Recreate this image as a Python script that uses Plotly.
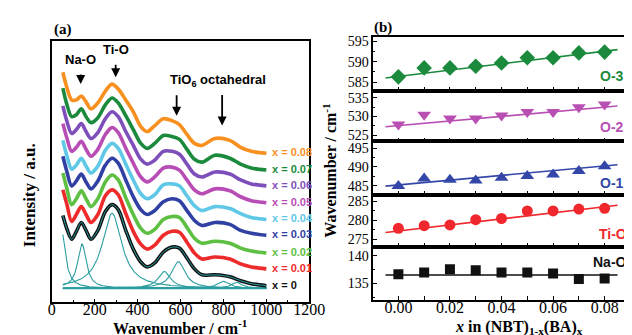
import numpy as np
import plotly.graph_objects as go

# ---------------- Panel (a): Raman spectra ----------------
wavenumber = [52, 70, 93, 115, 138, 160, 183, 215, 250, 281, 310, 345, 380, 415,
              445, 480, 520, 560, 595, 630, 665, 700, 760, 830, 880, 930, 1000]
compositions = ["x = 0", "x = 0.01", "x = 0.02", "x = 0.03", "x = 0.04",
                "x = 0.05", "x = 0.06", "x = 0.07", "x = 0.08"]
spec_x000 = [71, 58, 47, 55, 64, 56, 47, 56, 75, 82, 77, 56, 37, 24, 19, 23, 34, 39, 38, 28, 17, 11, 11, 9, 5, 2, 0]
spec_x001 = [80, 66, 48, 55, 63, 55, 47, 55, 74, 80, 75, 56, 38, 25, 20, 24, 34, 38, 37, 27, 16, 10, 12, 10, 5, 2, 0]
spec_x002 = [81, 66, 49, 55, 63, 55, 47, 55, 72, 79, 74, 56, 39, 25, 20, 24, 34, 37, 36, 26, 15, 10, 12, 10, 5, 2, 0]
spec_x003 = [80, 65, 50, 55, 62, 54, 47, 55, 71, 78, 73, 56, 39, 26, 21, 25, 34, 37, 35, 25, 15, 10, 13, 11, 5, 2, 0]
spec_x004 = [80, 65, 51, 55, 62, 54, 47, 54, 70, 77, 72, 56, 40, 26, 21, 25, 35, 36, 34, 24, 14, 9, 13, 11, 6, 2, 0]
spec_x005 = [80, 66, 52, 56, 62, 54, 47, 54, 69, 76, 71, 55, 40, 26, 21, 26, 35, 36, 33, 23, 13, 9, 14, 12, 6, 2, 0]
spec_x006 = [81, 66, 53, 57, 63, 55, 48, 54, 68, 75, 70, 55, 41, 27, 22, 26, 35, 35, 32, 22, 12, 9, 14, 12, 6, 2, 0]
spec_x007 = [83, 67, 54, 56, 62, 54, 48, 53, 66, 73, 68, 55, 41, 27, 22, 27, 35, 34, 31, 21, 11, 8, 15, 12, 6, 2, 0]
spec_x008 = [82, 67, 54, 54, 58, 52, 45, 51, 63, 70, 65, 54, 42, 27, 22, 28, 35, 33, 29, 19, 10, 8, 15, 13, 6, 2, 0]
spectra = [spec_x000, spec_x001, spec_x002, spec_x003, spec_x004,
           spec_x005, spec_x006, spec_x007, spec_x008]
offsets = [17, 34, 50, 68, 84, 101, 118, 134, 151]
colors = ["#111111", "#EE2B2B", "#5DC043", "#3141A3", "#5FC8E6",
          "#B94DB6", "#7E4FBA", "#1B8A3C", "#F7901E"]

# fitted components of the x = 0 spectrum (centre, height, half width)
comp_center = [45, 141, 281, 525, 590, 800, 862]
comp_height = [60, 45, 76, 17, 27, 7, 6]
comp_hwhm = [22, 24, 55, 35, 38, 35, 30]
comp_base = 14.3
teal = "#2A9D9F"

# ---------------- Panel (b): peak positions ----------------
x_comp = [0.00, 0.01, 0.02, 0.03, 0.04, 0.05, 0.06, 0.07, 0.08]
o3_pos = [586.3, 588.5, 588.5, 588.9, 589.7, 591.0, 591.0, 592.2, 592.4]
o2_pos = [527.9, 530.5, 529.5, 529.5, 530.3, 531.2, 531.2, 532.5, 533.2]
o1_pos = [484.9, 486.9, 486.6, 486.4, 487.1, 487.6, 488.0, 488.9, 490.2]
tio_pos = [277.9, 278.6, 278.8, 280.2, 280.5, 282.5, 282.5, 283.0, 283.2]
nao_pos = [136.7, 137.0, 137.6, 137.4, 137.0, 137.0, 136.8, 135.8, 135.9]
fit_x = [-0.005, 0.085]
o3_fit = [586.0, 593.0]
o2_fit = [527.3, 532.8]
o1_fit = [484.9, 490.6]
tio_fit = [276.8, 284.0]
nao_fit = [136.55, 136.55]

W, H = 632, 335
SERIF = "Liberation Serif"
SANS = "Liberation Sans"

def fy(px):
    return 1 - px / H

fig = go.Figure()

# teal components
wgrid = np.linspace(52, 1000, 400)
fig.add_trace(go.Scatter(x=[52, 1000], y=[comp_base, comp_base], mode="lines",
                         line=dict(color=teal, width=2), xaxis="x", yaxis="y"))
for c, h, g in zip(comp_center, comp_height, comp_hwhm):
    yy = comp_base + h / (1 + ((wgrid - c) / g) ** 2)
    fig.add_trace(go.Scatter(x=wgrid, y=yy, mode="lines",
                             line=dict(color=teal, width=1.1), xaxis="x", yaxis="y"))

for k, (spec, off, col) in enumerate(zip(spectra, offsets, colors)):
    yv = [v + off for v in spec]
    fig.add_trace(go.Scatter(x=wavenumber, y=yv, mode="lines",
                             line=dict(color=col, width=3.6, shape="spline", smoothing=0.9),
                             xaxis="x", yaxis="y"))
    if k == 0:
        fig.add_trace(go.Scatter(x=wavenumber, y=yv, mode="lines",
                                 line=dict(color=teal, width=1, shape="spline", smoothing=0.9),
                                 xaxis="x", yaxis="y"))

# panel b series
series_b = [
    (o3_pos, o3_fit, "#1B8A3C", "diamond", 12, 2),
    (o2_pos, o2_fit, "#B94FB3", "triangle-down", 12, 3),
    (o1_pos, o1_fit, "#3447A8", "triangle-up", 12, 4),
    (tio_pos, tio_fit, "#F0282D", "circle", 11, 5),
    (nao_pos, nao_fit, "#111111", "square", 10, 6),
]
for pos, fit, col, sym, size, idx in series_b:
    fig.add_trace(go.Scatter(x=fit_x, y=fit, mode="lines", line=dict(color=col, width=1.6),
                             xaxis=f"x{idx}", yaxis=f"y{idx}"))
    fig.add_trace(go.Scatter(x=x_comp, y=pos, mode="markers",
                             marker=dict(symbol=sym, size=size, color=col),
                             xaxis=f"x{idx}", yaxis=f"y{idx}"))

layout = dict(
    width=W, height=H, margin=dict(l=0, r=0, t=0, b=0),
    paper_bgcolor="white", plot_bgcolor="rgba(0,0,0,0)", showlegend=False,
    font=dict(family=SERIF, color="black"),
)
layout["xaxis"] = dict(domain=[41 / W, 307 / W], range=[0, 1200], anchor="y",
                       showline=True, mirror=True, linecolor="black", linewidth=1.5,
                       ticks="inside", ticklen=4, tickwidth=1.2, tickcolor="black",
                       dtick=200, tick0=0, showgrid=False, zeroline=False,
                       ticklabelstandoff=-8,
                       minor=dict(ticks="inside", ticklen=3, dtick=100, tickcolor="black"),
                       tickfont=dict(family=SERIF, size=16))
layout["yaxis"] = dict(domain=[fy(296), fy(31)], range=[0, 265], anchor="x",
                       showline=True, mirror=True, linecolor="black", linewidth=1.5,
                       showticklabels=False, ticks="", showgrid=False, zeroline=False)

b_bounds = [27, 82, 133, 187, 240, 293]
b_ranges = [[582.8, 596.2], [523.4, 536.8], [482.6, 496.8], [272.9, 286.8], [132.1, 141.6]]
for i in range(5):
    idx = i + 2
    bottom = i == 4
    layout[f"xaxis{idx}"] = dict(domain=[373 / W, 1], range=[-0.00977, 0.08751],
                                 anchor=f"y{idx}", showline=True, mirror=True,
                                 linecolor="black", linewidth=1.5,
                                 tickvals=[0, 0.02, 0.04, 0.06, 0.08],
                                 ticktext=["0.00", "0.02", "0.04", "0.06", "0.08"],
                                 showticklabels=bottom, ticks="inside", ticklen=4,
                                 tickwidth=1.2, tickcolor="black",
                                 ticklabelstandoff=-7,
                                 minor=dict(ticks="inside", ticklen=4,
                                            tickvals=[0.01, 0.03, 0.05, 0.07],
                                            tickcolor="black"),
                                 showgrid=False, zeroline=False,
                                 tickfont=dict(family=SERIF, size=16))
    layout[f"yaxis{idx}"] = dict(domain=[fy(b_bounds[i + 1]), fy(b_bounds[i])],
                                 range=b_ranges[i], anchor=f"x{idx}",
                                 showline=True, mirror=False, linecolor="black", linewidth=1.5,
                                 dtick=5, ticks="inside", ticklen=4, tickcolor="black",
                                 minor=dict(ticks="inside", ticklen=2.5, dtick=2.5,
                                            tickcolor="black"),
                                 showgrid=False, zeroline=False,
                                 tickfont=dict(family=SERIF, size=14))

fig.update_layout(**layout)

ann = []

def pa(px, py, text, size, family=SERIF, color="black", angle=0, xanchor="center"):
    return dict(x=px / W, y=fy(py), xref="paper", yref="paper", text=text,
                xanchor=xanchor, yanchor="middle", textangle=angle, showarrow=False,
                font=dict(family=family, size=size, color=color))

# panel letters and titles
ann.append(pa(53, 20, "<b>(a)</b>", 15))
ann.append(pa(383, 18, "<b>(b)</b>", 15))
ann.append(pa(18, 187, "<b>Intensity / a.u.</b>", 17, angle=-90))
ann.append(pa(174, 321, "<b>Wavenumber / cm<sup>-1</sup></b>", 16))
ann.append(pa(328, 162, "<b>Wavenumber / cm<sup>-1</sup></b>", 16, angle=-90))
ann.append(pa(524, 321, "<b><i>x</i> in (NBT)<sub>1-x</sub>(BA)<sub>x</sub></b>", 16))

# composition labels
for lab, off, col in zip(compositions, offsets, colors):
    ann.append(dict(x=1018, y=off + 1, xref="x", yref="y", text=f"<b>{lab}</b>",
                    xanchor="left", yanchor="middle", showarrow=False,
                    font=dict(family=SANS, size=11, color=col)))

# band labels and arrows
ann.append(pa(71, 50, "<b>Na-O</b>", 13, family=SANS))
ann.append(pa(107, 40, "<b>Ti-O</b>", 13, family=SANS))
ann.append(pa(213, 71, "<b>TiO<sub>6</sub> octahedral</b>", 13, family=SANS))
for xa, ya, dy in [(135, 221, -11), (298, 228, -14), (582, 189, -22), (794, 179, -32)]:
    ann.append(dict(x=xa, y=ya, xref="x", yref="y", text="", showarrow=True,
                    ax=0, ay=dy, arrowhead=2, arrowsize=1, arrowwidth=1.8,
                    arrowcolor="black"))

# panel b labels
b_labels = [("O-3", 605, 67, "#1B8A3C"), ("O-2", 605, 118, "#B94FB3"),
            ("O-1", 605, 175, "#3447A8"), ("Ti-O", 604, 227, "#F0282D"),
            ("Na-O", 598, 255, "#111111")]
for t, px, py, col in b_labels:
    ann.append(pa(px, py, f"<b>{t}</b>", 14, family=SANS, color=col, xanchor="left"))

fig.update_layout(annotations=ann)
fig.write_html("out.html")
